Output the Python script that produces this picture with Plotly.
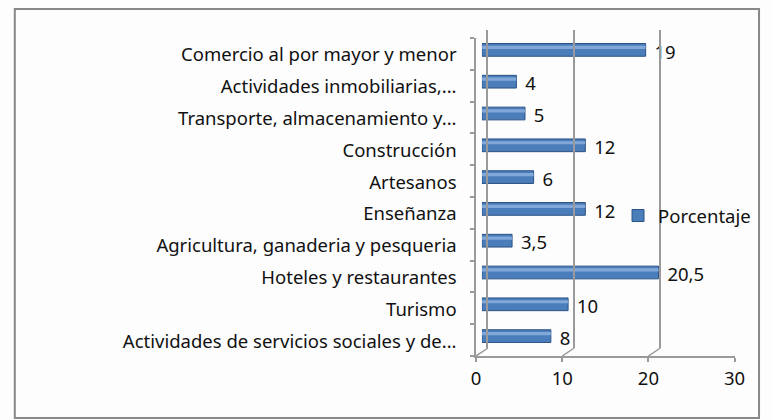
import plotly.graph_objects as go

# bottom-to-top order, as in the source sheet
categorias = [
    "Actividades de servicios sociales y de...",
    "Turismo",
    "Hoteles y restaurantes",
    "Agricultura, ganaderia y pesqueria",
    "Enseñanza",
    "Artesanos",
    "Construcción",
    "Transporte, almacenamiento y...",
    "Actividades inmobiliarias,...",
    "Comercio al por mayor y menor",
]
porcentaje = [8, 10, 20.5, 3.5, 12, 6, 12, 5, 4, 19]
x_ticks = [0, 10, 20, 30]

W, H = 772, 420
FONT = "Noto Sans"
FS = 18.5
GRID = "#9a9a9a"
BLUE = "#4a7ebb"

# depth offset of the fake 3d box, in pixels
DX, DY = 12, 8


def px_dom(a, b, total):
    return [a / total, b / total]


def py_dom(top, bottom):
    return [(H - bottom) / H, (H - top) / H]


def fmt(v):
    return f"{v:g}".replace(".", ",")


fig = go.Figure()

# bars (mid-depth axes)
fig.add_bar(
    x=porcentaje, y=categorias, orientation="h", name="Porcentaje",
    width=0.4, marker=dict(color=BLUE, line=dict(color="#2c5283", width=1)),
    hoverinfo="x+y", xaxis="x", yaxis="y",
)
# highlight stripe to hint at the cylinder shading
fig.add_bar(
    x=porcentaje, y=categorias, orientation="h", showlegend=False,
    width=0.1, offset=0.03, marker=dict(color="#8fb3e0", line=dict(width=0)),
    opacity=0.8, hoverinfo="skip", xaxis="x", yaxis="y",
)
# value labels past the bar ends (front plane, so they sit a touch lower)
fig.add_scatter(
    x=porcentaje, y=categorias, mode="markers+text", showlegend=False,
    marker=dict(size=22, opacity=0), text=[fmt(v) for v in porcentaje],
    textposition="middle right", textfont=dict(family=FONT, size=FS, color="#111"),
    cliponaxis=False, hoverinfo="skip", xaxis="x2", yaxis="y2",
)
# invisible trace so the back wall axes render
fig.add_scatter(x=porcentaje, y=categorias, mode="markers", marker=dict(opacity=0),
                showlegend=False, hoverinfo="skip", xaxis="x3", yaxis="y3")

front_l, front_r, front_top, front_bot = 481, 745, 38, 356

cat_axis = dict(range=[-0.5, 9.5], type="category", categoryarray=categorias,
                showgrid=False)

fig.update_layout(
    width=W, height=H, autosize=False,
    margin=dict(l=0, r=0, t=0, b=0),
    paper_bgcolor="#fdfdfd", plot_bgcolor="rgba(0,0,0,0)",
    barmode="overlay",
    font=dict(family=FONT, size=FS, color="#111"),
    legend=dict(x=626 / W, y=(H - 216) / H, xanchor="left", yanchor="middle",
                bgcolor="rgba(0,0,0,0)", font=dict(size=FS), itemwidth=30),
    # back wall: gridlines
    xaxis3=dict(domain=px_dom(front_l + DX, front_r + DX, W), range=[0, 30], anchor="y3",
                tickvals=x_ticks, showgrid=True, gridcolor=GRID, gridwidth=1.5,
                zeroline=False, showticklabels=False),
    yaxis3=dict(domain=py_dom(front_top - DY, front_bot - DY), anchor="x3",
                showticklabels=False, showline=True, linecolor=GRID, linewidth=1.5,
                **cat_axis),
    # front plane: axis lines, ticks and labels
    xaxis2=dict(domain=px_dom(front_l, front_r, W), range=[0, 30], anchor="y2",
                tickvals=x_ticks, showgrid=False, zeroline=False,
                showline=True, linecolor=GRID, linewidth=1.5,
                ticks="outside", ticklen=4, tickcolor=GRID, tickwidth=1.5,
                ticklabelstandoff=1, tickfont=dict(size=FS, color="#111")),
    yaxis2=dict(domain=py_dom(front_top, front_bot), anchor="x2",
                showline=True, linecolor=GRID, linewidth=1.5,
                ticks="outside", ticklen=4, tickcolor=GRID, tickwidth=1.5,
                tickson="boundaries", ticklabelstandoff=14, ticklabelshift=1,
                tickfont=dict(size=FS, color="#111"), **cat_axis),
    # bars sit half way in depth
    xaxis=dict(domain=px_dom(front_l + DX / 2, front_r + DX / 2, W), range=[0, 30],
               showgrid=False, zeroline=False, showticklabels=False, anchor="y"),
    yaxis=dict(domain=py_dom(front_top - DY / 2, front_bot - DY / 2), anchor="x",
               showticklabels=False, **cat_axis),
)

# box edges joining front and back planes
shapes = []
for t in x_ticks:
    shapes.append(dict(type="line", xref="x2", yref="y2", xsizemode="pixel",
                       ysizemode="pixel", xanchor=t, yanchor=-0.5,
                       x0=0, x1=DX, y0=0, y1=DY, line=dict(color=GRID, width=1.5)))
shapes.append(dict(type="line", xref="x2", yref="y2", xsizemode="pixel",
                   ysizemode="pixel", xanchor=0, yanchor=9.5,
                   x0=0, x1=DX, y0=0, y1=DY, line=dict(color=GRID, width=1.5)))
# outer chart border
shapes.append(dict(type="rect", xref="paper", yref="paper",
                   x0=10 / W, x1=770 / W, y0=(H - 418) / H, y1=(H - 9) / H,
                   line=dict(color="#888", width=2)))
fig.update_layout(shapes=shapes)

# drop the browser's default body margin so the figure sits at the page origin
fig.write_html("out.html", config={"displayModeBar": False},
               post_script="document.body.style.margin='0';")
